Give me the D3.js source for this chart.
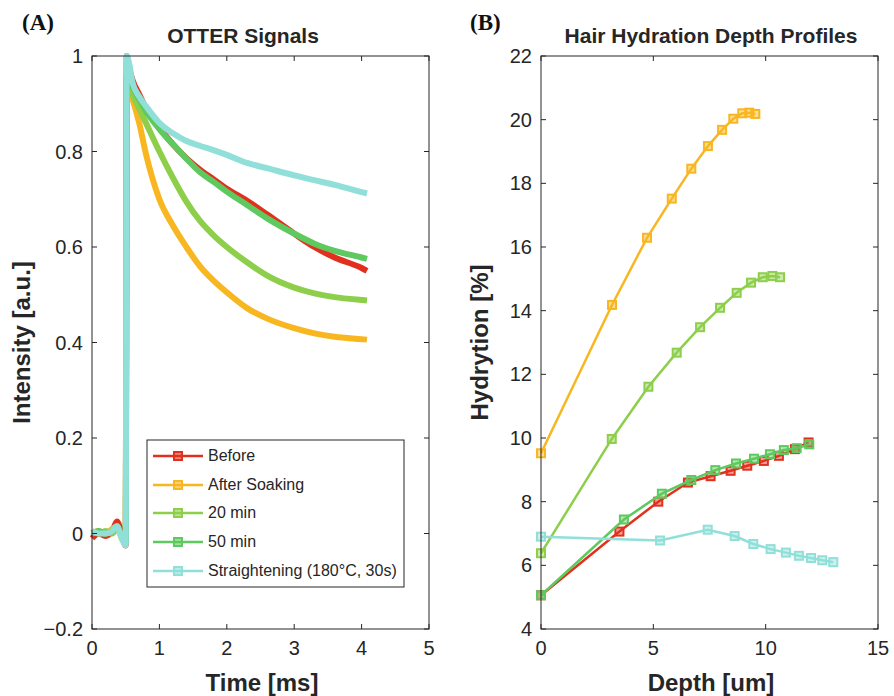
<!DOCTYPE html>
<html>
<head>
<meta charset="utf-8">
<script src="https://cdn.jsdelivr.net/npm/d3@7"></script>
<style>
    body{margin:0;background:#fff;}
    svg text{font-family:"Liberation Sans",Arial,Helvetica,sans-serif;fill:#262626;}
</style>
</head>
<body>
<div id="chart"></div>
<script>
// 0.data
// 0.1.panel A: otter signals, time in ms
var timeMs = [0, 0.1, 0.2, 0.3, 0.37, 0.44, 0.5, 0.515, 0.55, 0.6, 0.7, 0.8, 1.0, 1.2, 1.4, 1.6, 1.8, 2.0, 2.3, 2.6, 3.0, 3.3, 3.6, 4.0, 4.08];
var sigBefore   = [-0.01, 0.0, -0.005, 0.005, 0.025, 0.0, -0.025, 1.0, 0.975, 0.95, 0.92, 0.89, 0.85, 0.815, 0.786, 0.762, 0.742, 0.722, 0.697, 0.668, 0.628, 0.600, 0.578, 0.556, 0.550];
var sigSoaking  = [0.0, 0.005, 0.0, 0.01, 0.015, -0.01, -0.02, 0.935, 0.93, 0.91, 0.86, 0.795, 0.70, 0.645, 0.60, 0.56, 0.53, 0.505, 0.472, 0.45, 0.43, 0.419, 0.412, 0.407, 0.406];
var sig20min    = [0.005, 0.0, 0.005, 0.0, 0.01, -0.005, -0.02, 0.955, 0.94, 0.92, 0.89, 0.86, 0.80, 0.745, 0.695, 0.655, 0.625, 0.60, 0.568, 0.54, 0.515, 0.503, 0.495, 0.489, 0.488];
var sig50min    = [0.0, 0.005, 0.0, 0.005, 0.015, -0.005, -0.02, 0.96, 0.95, 0.935, 0.91, 0.885, 0.847, 0.815, 0.785, 0.757, 0.737, 0.716, 0.688, 0.66, 0.628, 0.607, 0.592, 0.578, 0.575];
var sigStraight = [0.005, 0.0, 0.0, 0.005, 0.015, -0.01, -0.025, 1.0, 0.985, 0.945, 0.915, 0.895, 0.86, 0.838, 0.822, 0.812, 0.803, 0.793, 0.776, 0.765, 0.75, 0.74, 0.73, 0.715, 0.712];

// 0.2.panel B: hydration depth profiles
var depthBefore   = [0, 3.49, 5.22, 6.54, 7.55, 8.44, 9.18, 9.92, 10.59, 11.3, 11.91];
var hydBefore     = [5.06, 7.06, 8.0, 8.6, 8.8, 8.97, 9.13, 9.28, 9.44, 9.65, 9.86];
var depthSoaking  = [0, 3.16, 4.72, 5.82, 6.69, 7.43, 8.06, 8.56, 8.96, 9.27, 9.54];
var hydSoaking    = [9.52, 14.18, 16.29, 17.52, 18.46, 19.17, 19.68, 20.03, 20.2, 20.22, 20.18];
var depth20min    = [0, 3.15, 4.78, 6.04, 7.08, 7.97, 8.71, 9.35, 9.87, 10.3, 10.64];
var hyd20min      = [6.38, 9.97, 11.61, 12.68, 13.48, 14.09, 14.56, 14.88, 15.05, 15.09, 15.05];
var depth50min    = [0, 3.69, 5.38, 6.69, 7.76, 8.68, 9.48, 10.19, 10.81, 11.38, 11.94];
var hyd50min      = [5.06, 7.44, 8.25, 8.68, 8.99, 9.2, 9.35, 9.49, 9.62, 9.68, 9.8];
var depthStraight = [0, 5.3, 7.42, 8.62, 9.45, 10.22, 10.9, 11.48, 12.02, 12.52, 13.01];
var hydStraight   = [6.9, 6.78, 7.12, 6.92, 6.67, 6.51, 6.4, 6.3, 6.23, 6.16, 6.1];

// 0.3.labels and ticks
var seriesNames = ["Before", "After Soaking", "20 min", "50 min", "Straightening (180\u00B0C, 30s)"];
var seriesColors = ["#E2301E", "#F8B621", "#8DCF4B", "#5DC95E", "#90DFD9"];
var ticksA_x = [0, 1, 2, 3, 4, 5];
var ticksA_y = [-0.2, 0, 0.2, 0.4, 0.6, 0.8, 1];
var ticksB_x = [0, 5, 10, 15];
var ticksB_y = [4, 6, 8, 10, 12, 14, 16, 18, 20, 22];

var signals = [sigBefore, sigSoaking, sig20min, sig50min, sigStraight];
var depths = [depthBefore, depthSoaking, depth20min, depth50min, depthStraight];
var hyds = [hydBefore, hydSoaking, hyd20min, hyd50min, hydStraight];

// 1.size
var svgW = 894, svgH = 696;
var plotTop = 56, plotBottom = 629;
var svg = d3.select("#chart").append("svg").attr("width", svgW).attr("height", svgH);

var axisColor = "#262626";

function drawFrame(xs, ys, xt, yt, fmtY) {
    var g = svg.append("g");
    var x0 = xs.range()[0], x1 = xs.range()[1];
    var y0 = ys.range()[0], y1 = ys.range()[1];
    // box
    g.append("rect").attr("x", x0).attr("y", y1).attr("width", x1 - x0).attr("height", y0 - y1)
        .attr("fill", "none").attr("stroke", axisColor).attr("stroke-width", 1);
    // ticks inward on all sides
    xt.forEach(function (t) {
        var px = xs(t);
        g.append("line").attr("x1", px).attr("x2", px).attr("y1", y0).attr("y2", y0 - 5).attr("stroke", axisColor);
        g.append("line").attr("x1", px).attr("x2", px).attr("y1", y1).attr("y2", y1 + 5).attr("stroke", axisColor);
        g.append("text").attr("x", px).attr("y", y0 + 26).attr("text-anchor", "middle")
            .style("font-size", "20px").text(t);
    });
    yt.forEach(function (t) {
        var py = ys(t);
        g.append("line").attr("x1", x0).attr("x2", x0 + 5).attr("y1", py).attr("y2", py).attr("stroke", axisColor);
        g.append("line").attr("x1", x1).attr("x2", x1 - 5).attr("y1", py).attr("y2", py).attr("stroke", axisColor);
        g.append("text").attr("x", x0 - 9).attr("y", py + 7).attr("text-anchor", "end")
            .style("font-size", "20px").text(fmtY(t));
    });
    return g;
}

// 2.panel A
var xA = d3.scaleLinear().domain([0, 5]).range([92, 429]);
var yA = d3.scaleLinear().domain([-0.2, 1]).range([plotBottom, plotTop]);

var lineA = d3.line()
    .x(function (d) { return xA(d[0]); })
    .y(function (d) { return yA(d[1]); })
    .curve(d3.curveMonotoneX);

var gA = svg.append("g");
signals.forEach(function (s, i) {
    gA.append("path")
        .datum(timeMs.map(function (t, j) { return [t, s[j]]; }))
        .attr("d", lineA)
        .attr("fill", "none")
        .attr("stroke", seriesColors[i])
        .attr("stroke-width", 6)
        .attr("stroke-linejoin", "round");
});
drawFrame(xA, yA, ticksA_x, ticksA_y, function (v) { return d3.format("")(+v.toFixed(1)); });

// 3.panel B
var xB = d3.scaleLinear().domain([0, 15]).range([541, 878]);
var yB = d3.scaleLinear().domain([4, 22]).range([plotBottom, plotTop]);

var lineB = d3.line()
    .x(function (d) { return xB(d[0]); })
    .y(function (d) { return yB(d[1]); });

var gB = svg.append("g");
depths.forEach(function (dep, i) {
    var pts = dep.map(function (d, j) { return [d, hyds[i][j]]; });
    var g = gB.append("g");
    g.append("path").datum(pts).attr("d", lineB)
        .attr("fill", "none").attr("stroke", seriesColors[i]).attr("stroke-width", 2.5);
    g.selectAll("rect").data(pts).enter().append("rect")
        .attr("x", function (d) { return xB(d[0]) - 4; })
        .attr("y", function (d) { return yB(d[1]) - 4; })
        .attr("width", 8).attr("height", 8)
        .attr("fill", seriesColors[i]).attr("fill-opacity", 0.45)
        .attr("stroke", seriesColors[i]).attr("stroke-width", 2);
});
drawFrame(xB, yB, ticksB_x, ticksB_y, function (v) { return v; });

// 4.titles and labels
function label(x, y, txt, size, rot, weight) {
    var t = svg.append("text").attr("text-anchor", "middle")
        .style("font-size", size + "px").style("font-weight", weight || "bold").text(txt);
    if (rot) t.attr("transform", "translate(" + x + "," + y + ") rotate(-90)");
    else t.attr("x", x).attr("y", y);
    return t;
}
label(243, 43, "OTTER Signals", 21);
label(711, 43, "Hair Hydration Depth Profiles", 21);
label(262, 691, "Time [ms]", 24);
label(711, 691, "Depth [um]", 24);
label(30, 342.5, "Intensity [a.u.]", 24, true);
label(488, 342.5, "Hydrytion [%]", 24, true);
svg.append("text").attr("x", 22).attr("y", 30).style("font-family", "'Liberation Serif','Times New Roman',serif")
    .style("font-size", "23px").style("font-weight", "bold").style("fill", "#111").text("(A)");
svg.append("text").attr("x", 470).attr("y", 30).style("font-family", "'Liberation Serif','Times New Roman',serif")
    .style("font-size", "23px").style("font-weight", "bold").style("fill", "#111").text("(B)");

// 5.legend
var leg = svg.append("g").attr("transform", "translate(147,440)");
leg.append("rect").attr("x", 0).attr("y", 0).attr("width", 257).attr("height", 147)
    .attr("fill", "#fff").attr("stroke", axisColor).attr("stroke-width", 1);
var legY = [16, 45, 73, 102, 131];
seriesNames.forEach(function (n, i) {
    var y = legY[i];
    leg.append("line").attr("x1", 6).attr("x2", 56).attr("y1", y).attr("y2", y)
        .attr("stroke", seriesColors[i]).attr("stroke-width", 2.5);
    leg.append("rect").attr("x", 27).attr("y", y - 4).attr("width", 8).attr("height", 8)
        .attr("fill", seriesColors[i]).attr("fill-opacity", 0.6)
        .attr("stroke", seriesColors[i]).attr("stroke-width", 2);
    leg.append("text").attr("x", 61).attr("y", y + 5).style("font-size", "16px").text(n);
});
</script>
</body>
</html>
